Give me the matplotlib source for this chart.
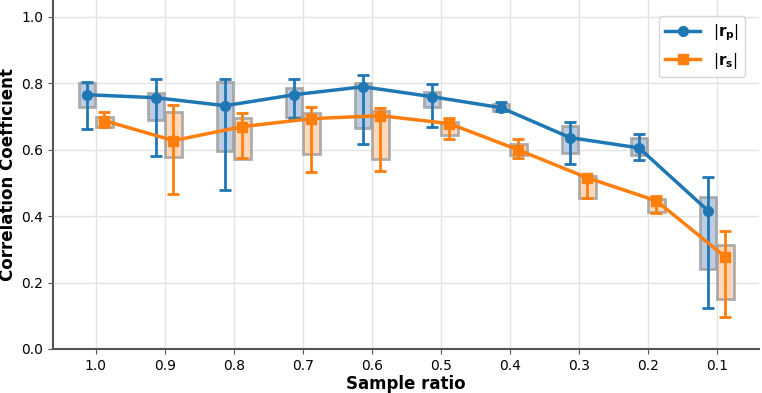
import matplotlib
matplotlib.use("Agg")
import matplotlib.pyplot as plt
import numpy as np

ratios = ["1.0", "0.9", "0.8", "0.7", "0.6", "0.5", "0.4", "0.3", "0.2", "0.1"]

# |r_p| : line value, error bar low/high, box low/high
rp_mean = [0.765, 0.756, 0.732, 0.765, 0.789, 0.759, 0.726, 0.636, 0.605, 0.416]
rp_err_lo = [0.663, 0.581, 0.479, 0.696, 0.617, 0.669, 0.717, 0.557, 0.569, 0.123]
rp_err_hi = [0.804, 0.813, 0.813, 0.813, 0.825, 0.798, 0.744, 0.684, 0.648, 0.518]
rp_box_lo = [0.729, 0.690, 0.596, 0.699, 0.666, 0.729, 0.717, 0.591, 0.584, 0.241]
rp_box_hi = [0.800, 0.771, 0.804, 0.786, 0.801, 0.774, 0.738, 0.672, 0.636, 0.458]

# |r_s|
rs_mean = [0.687, 0.627, 0.669, 0.693, 0.702, 0.678, 0.599, 0.515, 0.446, 0.277]
rs_err_lo = [0.669, 0.465, 0.575, 0.533, 0.536, 0.633, 0.575, 0.455, 0.410, 0.096]
rs_err_hi = [0.714, 0.735, 0.711, 0.729, 0.726, 0.696, 0.633, 0.521, 0.461, 0.355]
rs_box_lo = [0.669, 0.578, 0.572, 0.587, 0.572, 0.645, 0.584, 0.455, 0.413, 0.151]
rs_box_hi = [0.699, 0.714, 0.696, 0.711, 0.717, 0.684, 0.617, 0.521, 0.452, 0.313]

BLUE = "#1f77b4"
ORANGE = "#ff7f0e"

fig = plt.figure(figsize=(7.62, 3.93), dpi=100)
ax = fig.add_axes([0.0696, 0.112, 0.927, 0.888])

x = np.arange(len(ratios))
off = 0.125
w = 0.24

series = [
    (rp_mean, rp_err_lo, rp_err_hi, rp_box_lo, rp_box_hi, -off, BLUE, "lightsteelblue", "o", r"$|\mathbf{r_p}|$"),
    (rs_mean, rs_err_lo, rs_err_hi, rs_box_lo, rs_box_hi, off, ORANGE, "#ffd3ad", "s", r"$|\mathbf{r_s}|$"),
]

for mean, elo, ehi, blo, bhi, dx, col, fill, mk, lab in series:
    mean = np.array(mean)
    blo = np.array(blo)
    bhi = np.array(bhi)
    ax.bar(x + dx, bhi - blo, bottom=blo, width=w, color=fill,
           edgecolor="#a0a0a0", linewidth=2, alpha=0.85, zorder=2)
    yerr = [mean - np.array(elo), np.array(ehi) - mean]
    ax.errorbar(x + dx, mean, yerr=yerr, fmt="none", ecolor=col,
                elinewidth=2, capsize=4, capthick=2, zorder=3)
    ax.plot(x + dx, mean, marker=mk, color=col, linewidth=2.5,
            markersize=7, label=lab, zorder=4)

ax.set_xticks(x)
ax.set_xticklabels(ratios)
ax.set_xlim(-0.62, 9.62)
ax.set_ylim(0, 1.05)
ax.set_yticks([0.0, 0.2, 0.4, 0.6, 0.8, 1.0])
ax.tick_params(labelsize=10, color="#555555")

ax.grid(True, color="#e3e3e3", linewidth=1)
ax.set_axisbelow(True)
for s in ["top", "right"]:
    ax.spines[s].set_visible(False)
for s in ["left", "bottom"]:
    ax.spines[s].set_color("#555555")
    ax.spines[s].set_linewidth(1.5)

ax.set_xlabel("Sample ratio", fontsize=12, fontweight="bold", labelpad=2)
ax.set_ylabel("Correlation Coefficient", fontsize=12, fontweight="bold", labelpad=3)

ax.legend(loc="upper right", prop={"size": 11, "weight": "bold"},
          bbox_to_anchor=(0.99, 0.975), handlelength=2.3)

fig.savefig("out.png", dpi=100)
